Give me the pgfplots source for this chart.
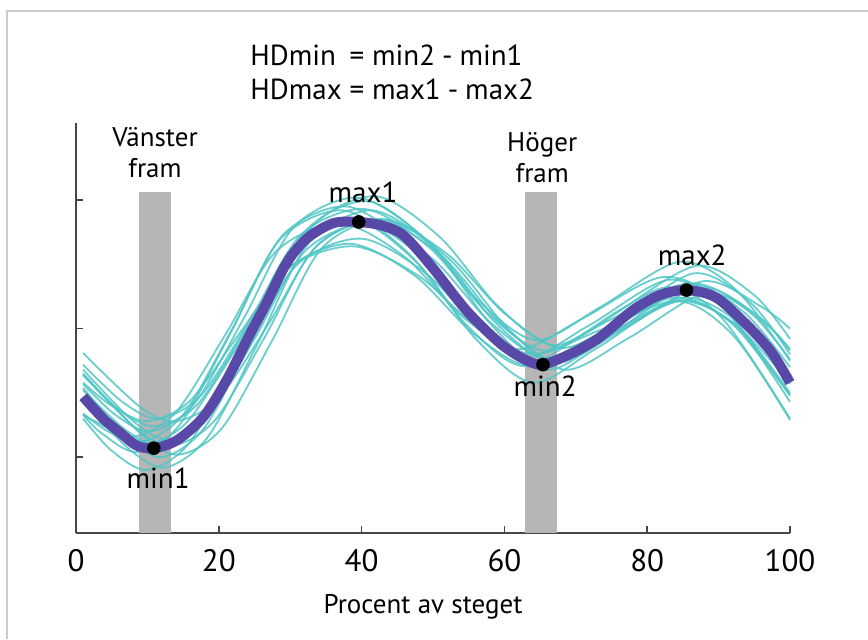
\documentclass[border=0pt]{standalone}
\usepackage{fontspec}
\setmainfont{PT Sans}
\usepackage{pgfplots}
\pgfplotsset{compat=1.18}

\definecolor{meanPurple}{RGB}{88,72,168}
\definecolor{cyanLine}{RGB}{80,198,198}
\definecolor{barGray}{RGB}{182,182,182}
\definecolor{axisGray}{RGB}{70,70,70}

\begin{document}
\begin{tikzpicture}
\useasboundingbox (0,0) rectangle (434pt,319.5pt);
\fill[white] (0,0) rectangle (434pt,319.5pt);
\draw[black!20, line width=0.6pt] (3.5pt,0) -- (3.5pt,314pt) -- (434pt,314pt);

% formula text
\node[anchor=west, inner sep=0pt, font=\fontsize{14.5}{17}\selectfont] at (125pt,281.5pt)
  {\begin{tabular}{@{}l@{\hspace{4pt}}l@{}}HDmin & = min2\hspace{3.5pt}-\hspace{3.5pt}min1\\ HDmax & = max1\hspace{3.5pt}-\hspace{3.5pt}max2\end{tabular}};

\begin{axis}[
  at={(38pt,53pt)}, anchor=south west,
  scale only axis, width=357pt, height=205pt,
  xmin=0, xmax=100, ymin=-0.59, ymax=2.6,
  axis x line*=bottom, axis y line*=left,
  axis line style={line width=0.75pt, axisGray},
  tick align=inside, major tick length=3.5pt,
  tick style={line width=0.75pt, axisGray},
  xtick={0,20,...,100}, ytick={0,1,2}, yticklabels={},
  /pgf/number format/assume math mode=true,
  xticklabel style={font=\fontsize{15.5}{17}\selectfont, yshift=-4.5pt},
  xlabel={Procent av steget},
  xlabel style={font=\fontsize{13.5}{15}\selectfont, at={(axis description cs:0.5,0)},
    anchor=center, yshift=-37pt, xshift=-5pt},
  clip=false,
  cy/.style={smooth, cyanLine, line width=0.9pt, opacity=0.85},
]
% gray frames
\addplot[fill=barGray, draw=none] coordinates {(8.8,-0.59) (8.8,2.06) (13.3,2.06) (13.3,-0.59)};
\addplot[fill=barGray, draw=none] coordinates {(62.9,-0.59) (62.9,2.06) (67.4,2.06) (67.4,-0.59)};

% individual curves
\addplot[cy] coordinates {(1,0.43) (4,0.26) (9,0.12) (15,0.33) (22,1.01) (29,1.73) (38,1.95) (47,1.63) (55,1.10) (63,0.78) (72,1.03) (83,1.38) (91,1.14) (100,0.43)};
\addplot[cy] coordinates {(1,0.43) (7.5,0.06) (12.5,-0.08) (18.5,0.16) (25.5,0.89) (32.5,1.66) (41.5,1.92) (50.5,1.61) (58.5,1.06) (66.5,0.75) (75.5,1.04) (86.5,1.43) (94.5,1.20) (100,0.80)};
\addplot[cy] coordinates {(1,0.64) (6,0.37) (11,0.24) (17,0.41) (24,1.01) (31,1.65) (40,1.84) (49,1.53) (57,1.02) (65,0.72) (74,0.93) (85,1.22) (93,0.99) (100,0.50)};
\addplot[cy] coordinates {(1,0.64) (8.5,0.22) (13.5,0.09) (19.5,0.29) (26.5,0.94) (33.5,1.63) (42.5,1.85) (51.5,1.55) (59.5,1.04) (67.5,0.74) (76.5,0.99) (87.5,1.32) (95.5,1.10) (100,0.83)};
\addplot[cy] coordinates {(1,0.30) (5,0.05) (10,-0.10) (16,0.12) (23,0.84) (30,1.61) (39,1.85) (48,1.50) (56,0.92) (64,0.58) (73,0.85) (84,1.21) (92,0.95) (100,0.29)};
\addplot[cy] coordinates {(1,0.81) (9,0.39) (14,0.28) (20,0.46) (27,1.04) (34,1.66) (43,1.85) (52,1.58) (60,1.12) (68,0.85) (77,1.07) (88,1.37) (96,1.17) (100,1.00)};
\addplot[cy] coordinates {(1,0.33) (3,0.27) (8,0.16) (14,0.35) (21,0.96) (28,1.60) (37,1.82) (46,1.56) (54,1.10) (62,0.84) (71,1.08) (82,1.40) (90,1.21) (100,0.48)};
\addplot[cy] coordinates {(1,0.54) (7,0.16) (12,0.00) (18,0.23) (25,0.96) (32,1.75) (41,1.99) (50,1.63) (58,1.04) (66,0.68) (75,0.96) (86,1.32) (94,1.06) (100,0.57)};
\addplot[cy] coordinates {(1,0.34) (4.5,0.20) (9.5,0.09) (15.5,0.27) (22.5,0.85) (29.5,1.46) (38.5,1.66) (47.5,1.41) (55.5,0.97) (63.5,0.71) (72.5,0.94) (83.5,1.24) (91.5,1.06) (100,0.48)};
\addplot[cy] coordinates {(1,0.68) (8,0.28) (13,0.14) (19,0.36) (26,1.05) (33,1.79) (42,2.03) (51,1.71) (59,1.18) (67,0.87) (76,1.14) (87,1.49) (95,1.26) (100,0.92)};
\addplot[cy] coordinates {(1,0.72) (6.5,0.43) (11.5,0.30) (17.5,0.48) (24.5,1.08) (31.5,1.73) (40.5,1.93) (49.5,1.63) (57.5,1.13) (65.5,0.83) (74.5,1.06) (85.5,1.35) (93.5,1.13) (100,0.70)};
\addplot[cy] coordinates {(1,0.33) (3.5,0.19) (8.5,0.04) (14.5,0.25) (21.5,0.95) (28.5,1.69) (37.5,1.92) (46.5,1.59) (54.5,1.04) (62.5,0.71) (71.5,0.97) (82.5,1.32) (90.5,1.08) (100,0.30)};
\addplot[cy] coordinates {(1,0.52) (7,0.21) (12,0.09) (18,0.29) (25,0.92) (32,1.60) (41,1.82) (50,1.54) (58,1.05) (66,0.77) (75,1.02) (86,1.35) (94,1.15) (100,0.76)};
\addplot[cy] coordinates {(1,0.65) (9.5,0.16) (14.5,0.02) (20.5,0.23) (27.5,0.91) (34.5,1.63) (43.5,1.85) (52.5,1.53) (60.5,1.00) (68.5,0.68) (77.5,0.93) (88.5,1.28) (96.5,1.04) (100,0.84)};
\addplot[cy] coordinates {(1,0.57) (5.5,0.33) (10.5,0.20) (16.5,0.41) (23.5,1.08) (30.5,1.79) (39.5,2.02) (48.5,1.72) (56.5,1.21) (64.5,0.91) (73.5,1.17) (84.5,1.52) (92.5,1.30) (100,0.75)};
\addplot[cy] coordinates {(1,0.46) (6,0.22) (11,0.10) (17,0.28) (24,0.87) (31,1.50) (40,1.70) (49,1.43) (57,0.98) (65,0.71) (74,0.94) (85,1.24) (93,1.04) (100,0.60)};
\addplot[cy] coordinates {(1,0.58) (5,0.40) (10,0.28) (16,0.44) (23,0.97) (30,1.48) (39,1.64) (48,1.41) (56,1.02) (64,0.80) (73,0.98) (84,1.22) (92,1.05) (100,0.58)};

% mean curve
\addplot[smooth, meanPurple, line width=5pt] coordinates {
  (1,0.47) (3.8,0.30) (6.2,0.19) (8.5,0.09) (10.9,0.07) (14.1,0.13) (17.8,0.31)
  (21.1,0.60) (24.3,0.95) (26.5,1.18) (29.5,1.51) (32.3,1.70) (36,1.82) (39.5,1.83)
  (43,1.80) (46,1.72) (50,1.47) (54.7,1.14) (59.3,0.89) (62.5,0.77) (65.3,0.72)
  (69.5,0.81) (73.3,0.93) (77.9,1.14) (81.7,1.26) (85.5,1.30) (89.7,1.24) (94.3,1.01)
  (97.5,0.81) (100,0.58)};

% extrema
\addplot[only marks, mark=*, mark size=3.2pt, black] coordinates {(10.9,0.07) (39.6,1.83) (65.4,0.72) (85.5,1.30)};

\node[font=\fontsize{14.5}{16}\selectfont] at (axis cs:11.5,-0.16) {min1};
\node[font=\fontsize{14.5}{16}\selectfont] at (axis cs:40.2,2.06) {max1};
\node[font=\fontsize{14.5}{16}\selectfont] at (axis cs:65.7,0.55) {min2};
\node[font=\fontsize{14.5}{16}\selectfont] at (axis cs:86.3,1.57) {max2};
\node[font=\fontsize{13.5}{15.5}\selectfont, align=center] at (axis cs:11.06,2.37) {Vänster\\fram};
\node[font=\fontsize{13.5}{15.5}\selectfont, align=center] at (axis cs:65.3,2.33) {Höger\\fram};
\end{axis}
\end{tikzpicture}
\end{document}
